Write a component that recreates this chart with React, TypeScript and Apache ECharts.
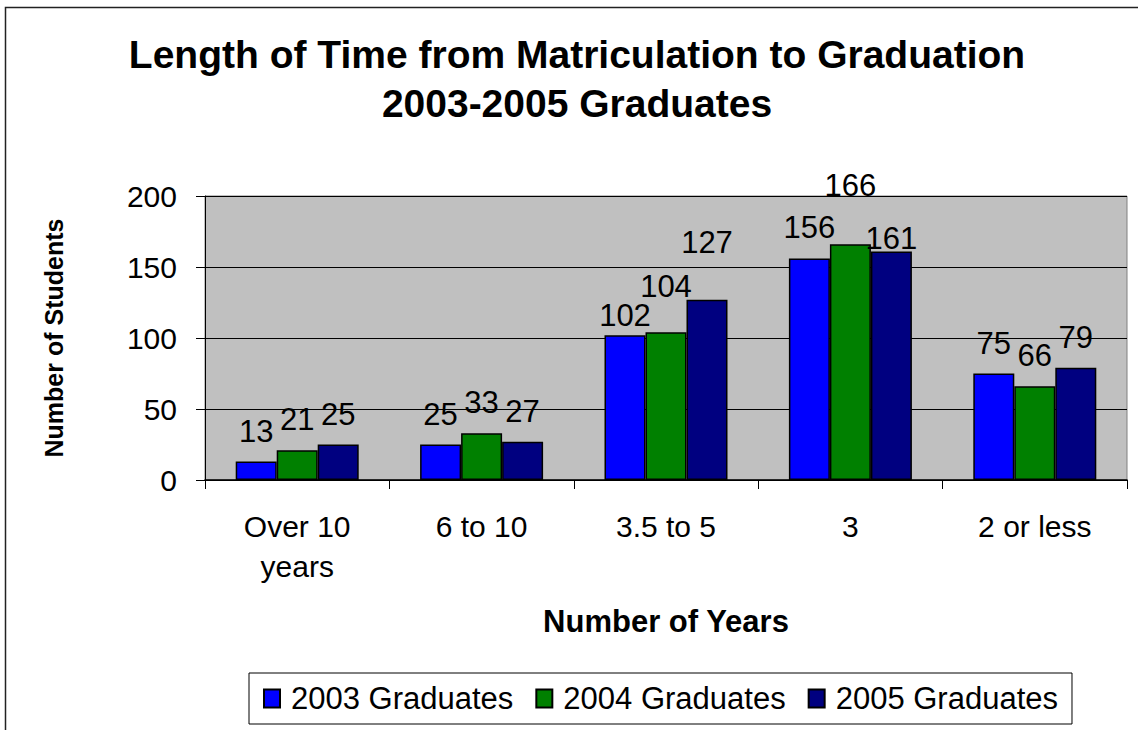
import React, { useEffect, useRef } from "react";
import * as echarts from "echarts";

const categories = ["Over 10\nyears", "6 to 10", "3.5 to 5", "3", "2 or less"];
const seriesNames = ["2003 Graduates", "2004 Graduates", "2005 Graduates"];
const grad2003 = [13, 25, 102, 156, 75];
const grad2004 = [21, 33, 104, 166, 66];
const grad2005 = [25, 27, 127, 161, 79];
const yTicks = { min: 0, max: 200, interval: 50 };

// label vertical nudges (pixels, negative = up), mimicking the original's placement
const labelNudge2003 = [0, 0, 11, 0, 0];
const labelNudge2004 = [0, 0, -15, -28, 0];
const labelNudge2005 = [0, 0, -27, 18, 0];

const colors = ["#0000FF", "#008000", "#000080"];
const FONT = "'Liberation Sans', Arial, sans-serif";

export default function App() {
  const ref = useRef<HTMLDivElement>(null);
  useEffect(() => {
    if (!ref.current) return;
    const chart = echarts.init(ref.current, null, { renderer: "svg" });
    const values = [grad2003, grad2004, grad2005];
    const nudges = [labelNudge2003, labelNudge2004, labelNudge2005];
    const series = values.map((vals, si) => ({
      name: seriesNames[si],
      type: "bar",
      barGap: "0%",
      barCategoryGap: "33.3%",
      itemStyle: { color: colors[si], borderColor: "#000", borderWidth: 1.5 },
      data: vals.map((v, i) => ({
        value: v,
        label: nudges[si][i] ? { offset: [0, nudges[si][i]] } : undefined,
      })),
      label: {
        show: true,
        position: "top",
        distance: 15,
        fontSize: 31,
        fontFamily: FONT,
        color: "#000",
      },
    }));
    chart.setOption({
      animation: false,
      backgroundColor: "#fff",
      textStyle: { fontFamily: FONT },
      title: {
        text: "Length of Time from Matriculation to Graduation\n2003-2005 Graduates",
        left: 577,
        top: 30,
        padding: 0,
        textAlign: "center",
        textStyle: {
          fontSize: 39,
          fontWeight: "bold",
          fontFamily: FONT,
          lineHeight: 49,
          color: "#000",
        },
      },
      graphic: [
        {
          type: "rect",
          shape: { x: 5.5, y: 7.5, width: 1300, height: 900 },
          style: { fill: "none", stroke: "#222", lineWidth: 1.5 },
          silent: true,
          z: -1,
        },
      ],
      legend: {
        left: 249,
        top: 673,
        padding: [10, 14, 10, 14],
        itemWidth: 16,
        itemHeight: 18,
        itemGap: 22,
        icon: "rect",
        borderColor: "#000",
        borderWidth: 1,
        backgroundColor: "#fff",
        textStyle: {
          fontSize: 31,
          fontFamily: FONT,
          color: "#000",
          padding: [0, 0, 0, 6],
        },
        data: seriesNames,
      },
      grid: {
        left: 205,
        top: 196,
        right: 11,
        bottom: 250,
        show: true,
        backgroundColor: "#C0C0C0",
        borderColor: "#808080",
        borderWidth: 1,
      },
      xAxis: {
        type: "category",
        data: categories,
        name: "Number of Years",
        nameLocation: "middle",
        nameGap: 141,
        nameTextStyle: {
          fontSize: 31,
          fontWeight: "bold",
          fontFamily: FONT,
          color: "#000",
          verticalAlign: "middle",
        },
        axisLine: { lineStyle: { color: "#000", width: 1.5 } },
        axisTick: { show: true, length: 9, lineStyle: { color: "#000" } },
        axisLabel: {
          fontSize: 30,
          lineHeight: 40,
          margin: 26,
          color: "#000",
          fontFamily: FONT,
          interval: 0,
        },
      },
      yAxis: {
        type: "value",
        min: yTicks.min,
        max: yTicks.max,
        interval: yTicks.interval,
        name: "Number of Students",
        nameLocation: "middle",
        nameGap: 151,
        nameRotate: 90,
        nameTextStyle: {
          fontSize: 25,
          fontWeight: "bold",
          fontFamily: FONT,
          color: "#000",
          verticalAlign: "middle",
        },
        axisLine: { show: true, lineStyle: { color: "#000", width: 1 } },
        axisTick: { show: true, length: 9, lineStyle: { color: "#000" } },
        axisLabel: {
          fontSize: 30,
          margin: 28,
          color: "#000",
          fontFamily: FONT,
        },
        splitLine: { show: true, lineStyle: { color: "#000", width: 1 } },
      },
      series,
    });
    return () => chart.dispose();
  }, []);
  return (
    <div
      ref={ref}
      style={{ position: "fixed", left: 0, top: 0, width: 1138, height: 730 }}
    />
  );
}
